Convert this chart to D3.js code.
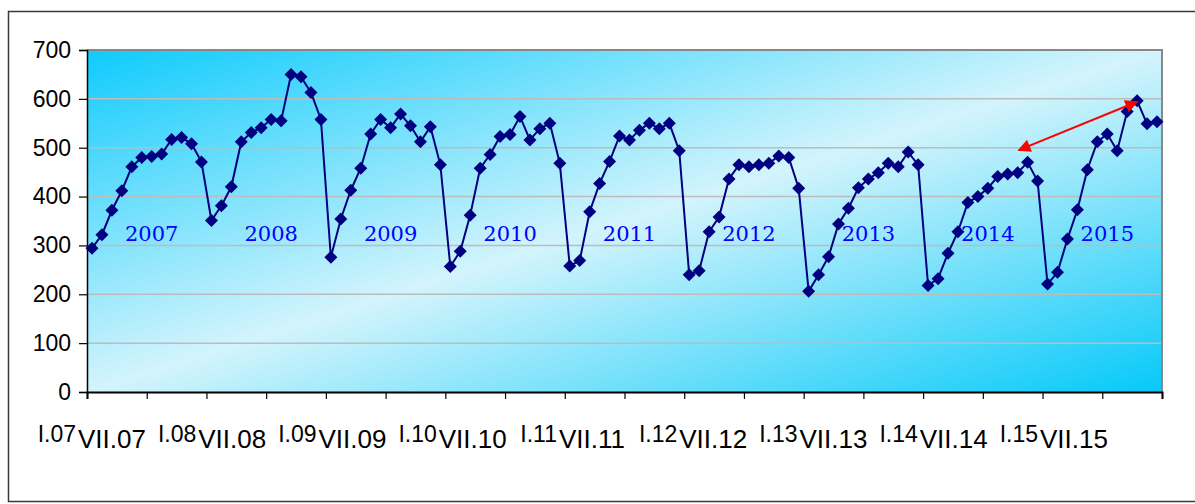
<!DOCTYPE html>
<html>
<head>
<meta charset="utf-8">
<script src="https://cdn.jsdelivr.net/npm/d3@7"></script>
<style>
  body { margin: 0; background: #fff; }
  svg { display: block; }
</style>
</head>
<body>
<svg id="chart"></svg>
<script>
// monthly values, one array per year (Jan..Dec)
var years = [2007, 2008, 2009, 2010, 2011, 2012, 2013, 2014, 2015];
var v2007 = [294, 322, 372, 412, 461, 480, 482, 487, 517, 521, 508, 471];
var v2008 = [351, 381, 420, 512, 531, 541, 558, 555, 650, 645, 613, 558];
var v2009 = [276, 354, 413, 458, 528, 558, 541, 569, 545, 512, 543, 465];
var v2010 = [257, 288, 362, 458, 486, 523, 527, 564, 516, 539, 550, 468];
var v2011 = [258, 269, 369, 427, 472, 524, 516, 536, 550, 539, 550, 494];
var v2012 = [240, 248, 328, 358, 436, 465, 461, 465, 468, 483, 480, 417];
var v2013 = [206, 240, 277, 344, 376, 418, 436, 449, 468, 461, 491, 465];
var v2014 = [218, 232, 284, 328, 388, 400, 417, 441, 446, 449, 470, 432];
var v2015 = [221, 245, 313, 373, 455, 512, 528, 494, 574, 596, 549, 553];
var yTicks = [0, 100, 200, 300, 400, 500, 600, 700];
var xTickLabels = ["I.07", "VII.07", "I.08", "VII.08", "I.09", "VII.09", "I.10", "VII.10",
    "I.11", "VII.11", "I.12", "VII.12", "I.13", "VII.13", "I.14", "VII.14", "I.15", "VII.15"];
// red double arrow: [month index, value]
var arrowFrom = [93.6, 495];
var arrowTo = [105.5, 594];

var values = [].concat(v2007, v2008, v2009, v2010, v2011, v2012, v2013, v2014, v2015);
var data = values.map((v, i) => ({ i: i, value: v }));

var W = 1195, H = 504;
var margin = { left: 87, top: 50, right: 33, bottom: 112 };
var width = W - margin.left - margin.right;
var height = H - margin.top - margin.bottom;

var svg = d3.select("#chart").attr("width", W).attr("height", H);

// outer frame
svg.append("rect")
    .attr("x", 8.5).attr("y", 11.5)
    .attr("width", W + 10).attr("height", 490)
    .attr("fill", "#fff")
    .attr("stroke", "#3a3a3a")
    .attr("stroke-width", 1.5);

var defs = svg.append("defs");
var grad = defs.append("linearGradient")
    .attr("id", "bg")
    .attr("x1", "0").attr("y1", "0").attr("x2", "1").attr("y2", "1");
grad.append("stop").attr("offset", "0").attr("stop-color", "#0fcbfc");
grad.append("stop").attr("offset", "0.5").attr("stop-color", "#d3f4fc");
grad.append("stop").attr("offset", "1").attr("stop-color", "#06c9f9");

var x = d3.scaleLinear().domain([0, values.length]).range([0, width]);
var y = d3.scaleLinear().domain([0, 700]).range([height, 0]);

var g = svg.append("g").attr("transform", "translate(" + margin.left + "," + margin.top + ")");

g.append("rect")
    .attr("width", width).attr("height", height)
    .attr("fill", "url(#bg)");

// gridlines
g.append("g")
    .selectAll("line")
    .data(yTicks.slice(1, -1)).enter()
    .append("line")
    .attr("x1", 0).attr("x2", width)
    .attr("y1", d => y(d)).attr("y2", d => y(d))
    .attr("stroke", "#bcbcbc")
    .attr("stroke-width", 1.5);

// top / right border
g.append("path")
    .attr("d", "M0," + y(700) + "H" + width + "V" + height)
    .attr("fill", "none")
    .attr("stroke", "#888")
    .attr("stroke-width", 2);

// y axis
var gy = g.append("g")
    .call(d3.axisLeft(y).tickValues(yTicks).tickSize(8).tickPadding(8));
gy.select(".domain").attr("stroke", "#000").attr("stroke-width", 1.5);
gy.selectAll(".tick line").attr("stroke", "#000").attr("stroke-width", 1.2);
gy.selectAll(".tick text")
    .attr("font-family", "Liberation Sans, Arial, sans-serif")
    .attr("font-size", 23)
    .attr("fill", "#000");

// x axis (ticks only, labels drawn separately)
var gx = g.append("g")
    .attr("transform", "translate(0," + height + ")")
    .call(d3.axisBottom(x).tickValues(d3.range(0, values.length + 1, 6)).tickSize(7).tickFormat(""));
gx.select(".domain").attr("stroke", "#000").attr("stroke-width", 2);
gx.selectAll(".tick line").attr("stroke", "#000").attr("stroke-width", 1.2);

// x labels: pairs "I.yy" (raised) + "VII.yy" (lower)
var labelX = d3.scaleLinear().domain([0, years.length - 1]).range([77 - margin.left, 1039 - margin.left]);
var lab = g.append("g")
    .attr("font-family", "Liberation Sans, Arial, sans-serif")
    .attr("fill", "#000");
lab.selectAll("text")
    .data(xTickLabels).enter()
    .append("text")
    .attr("x", (d, i) => labelX(Math.floor(i / 2)) + (i % 2 === 0 ? -1 : 1))
    .attr("y", (d, i) => i % 2 === 0 ? height + 50 : height + 56)
    .attr("text-anchor", (d, i) => i % 2 === 0 ? "end" : "start")
    .attr("font-size", (d, i) => i % 2 === 0 ? 23 : 26)
    .text(d => d);

// year labels
g.append("g")
    .selectAll("text")
    .data(years).enter()
    .append("text")
    .attr("x", (d, i) => x(i * 12 + 6) + 5)
    .attr("y", y(310))
    .attr("text-anchor", "middle")
    .attr("font-family", "DejaVu Serif, serif")
    .attr("font-size", 21)
    .attr("fill", "#0000ff")
    .text(d => d);

// series line
var line = d3.line()
    .x(d => x(d.i + 0.5))
    .y(d => y(d.value));

g.append("path")
    .datum(data)
    .attr("d", line)
    .attr("fill", "none")
    .attr("stroke", "#000080")
    .attr("stroke-width", 2);

g.append("g")
    .selectAll("path")
    .data(data).enter()
    .append("path")
    .attr("d", "M0,-6.5L6.5,0L0,6.5L-6.5,0Z")
    .attr("transform", d => "translate(" + x(d.i + 0.5) + "," + y(d.value) + ")")
    .attr("fill", "#000080");

// red double arrow
var mk = defs.append("marker")
    .attr("id", "head")
    .attr("viewBox", "0 0 10 10")
    .attr("refX", 9).attr("refY", 5)
    .attr("markerWidth", 8).attr("markerHeight", 6.5)
    .attr("orient", "auto-start-reverse");
mk.append("path").attr("d", "M0,0L10,5L0,10Z").attr("fill", "#ff0000");

g.append("line")
    .attr("x1", x(arrowFrom[0])).attr("y1", y(arrowFrom[1]))
    .attr("x2", x(arrowTo[0])).attr("y2", y(arrowTo[1]))
    .attr("stroke", "#ff0000")
    .attr("stroke-width", 2)
    .attr("marker-start", "url(#head)")
    .attr("marker-end", "url(#head)");
</script>
</body>
</html>
